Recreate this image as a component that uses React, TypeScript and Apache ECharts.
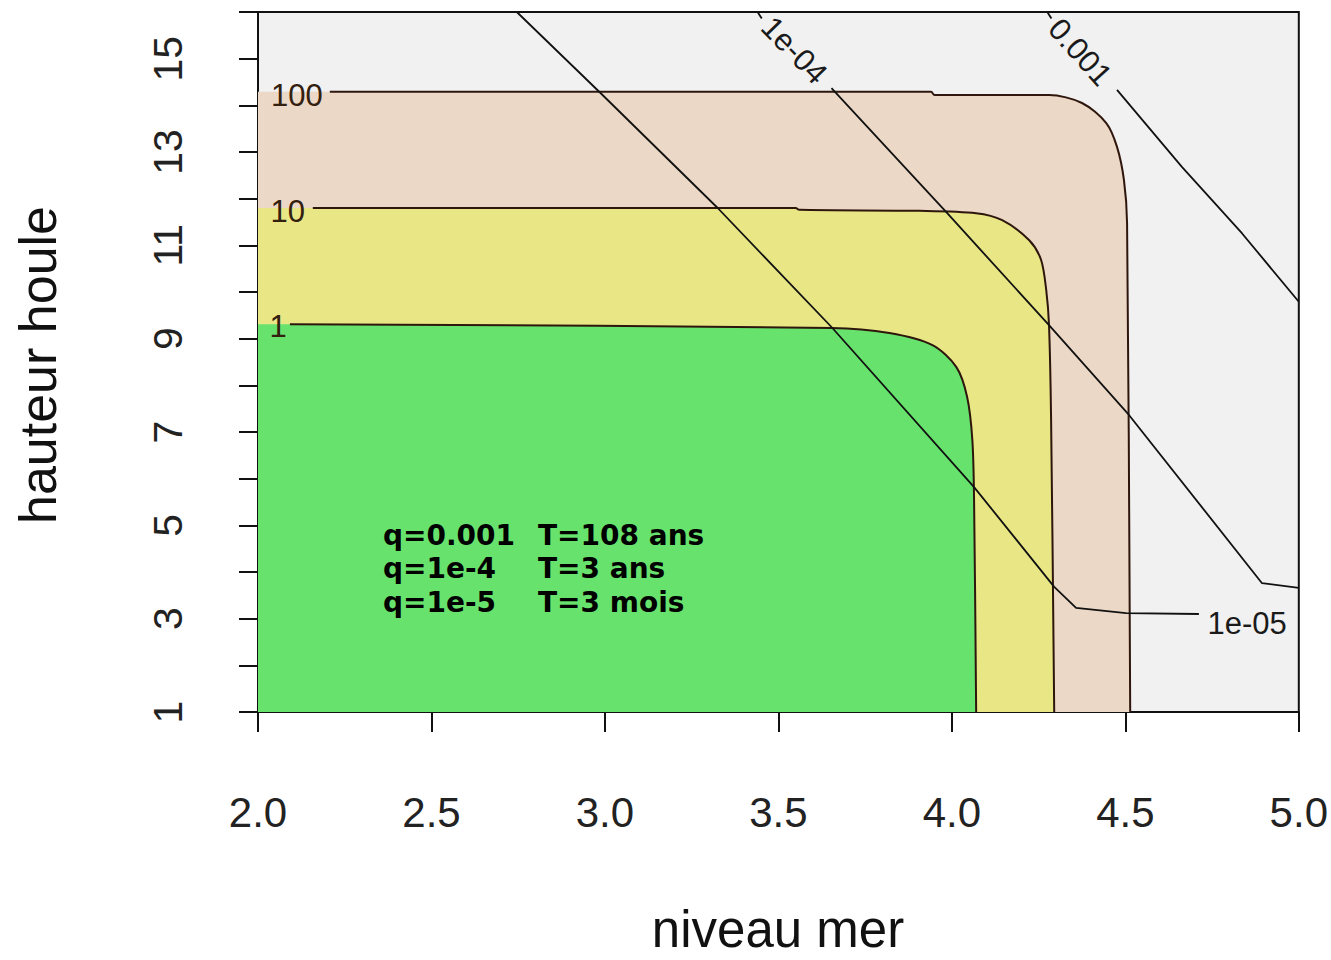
import React, { useEffect, useRef } from "react";
import * as echarts from "echarts";

// ---- data ----
const X_MIN = 2.0;
const X_MAX = 5.0;
const Y_MIN = 1;
const Y_MAX = 16;

// filled contour boundaries (return period levels 1, 10, 100)
const boundary100 = [
  [2.0, 14.29], [3.94, 14.29], [3.95, 14.22], [4.28, 14.22], [4.375, 14.05],
  [4.445, 13.62], [4.476, 13.11], [4.496, 12.4], [4.505, 11.48], [4.514, 1.0],
];
const boundary10 = [
  [2.0, 11.8], [3.55, 11.8], [3.56, 11.76], [3.906, 11.74], [4.07, 11.69],
  [4.145, 11.54], [4.223, 11.11], [4.257, 10.69], [4.272, 10.04], [4.28, 9.29],
  [4.286, 7.26], [4.295, 1.0],
];
const boundary1 = [
  [2.0, 9.31], [3.653, 9.23], [3.82, 9.12], [3.944, 8.86], [4.013, 8.39],
  [4.044, 7.75], [4.059, 6.83], [4.064, 5.54], [4.07, 1.0],
];
const boundaryLineStart = [2.207, 2.158, 2.092];

// probability contours
const line1e5 = [
  [2.746, 16.0], [2.985, 14.28], [3.325, 11.8], [3.653, 9.25], [4.064, 5.82],
  [4.295, 3.68], [4.358, 3.23], [4.502, 3.12], [4.712, 3.1],
];
const line1e4Stub = [[3.44, 16.0], [3.452, 15.86]];
const line1e4 = [
  [3.653, 14.37], [3.984, 11.71], [4.28, 9.29], [4.511, 7.36], [4.894, 3.76], [5.0, 3.66],
];
const line1e3Stub = [[4.275, 16.0], [4.287, 15.86]];
const line1e3 = [[4.476, 14.33], [4.663, 12.68], [4.836, 11.26], [5.0, 9.79]];

// contour labels
const labelTexts = ["100", "10", "1", "1e-04", "0.001", "1e-05"];
const labelX = [2.112, 2.086, 2.058, 3.546, 4.37, 4.851];
const labelY = [14.22, 11.73, 9.27, 15.18, 15.14, 2.886];
const labelRot = [0, 0, 0, -46, -48, 0];
const labelKind = ["level", "level", "level", "prob", "prob", "prob"];

const noteLeft = ["q=0.001", "q=1e-4", "q=1e-5"];
const noteRight = ["T=108 ans", "T=3 ans", "T=3 mois"];

const COL_GREY = "#f1f1f1";
const COL_TAN = "#ecd8c6";
const COL_YELLOW = "#e8e685";
const COL_GREEN = "#67e36d";
const COL_BOUND = "#2e160c";
const COL_LINE = "#111111";
const FONT = "'Liberation Sans', Arial, Helvetica, sans-serif";
const SMOOTH = 0.3;

function areaSeries(data: number[][], color: string) {
  return {
    type: "line",
    data,
    smooth: SMOOTH,
    showSymbol: false,
    symbol: "none",
    lineStyle: { width: 0, opacity: 0 },
    areaStyle: { color, opacity: 1, origin: "start" },
    silent: true,
    z: 1,
  };
}

function strokeSeries(data: number[][], color: string, width: number, smooth: number | boolean) {
  return {
    type: "line",
    data,
    smooth,
    showSymbol: false,
    symbol: "none",
    lineStyle: { width, color },
    silent: true,
    z: 3,
  };
}

export default function App() {
  const ref = useRef<HTMLDivElement>(null);

  useEffect(() => {
    if (!ref.current) return;
    const chart = echarts.init(ref.current, undefined, { renderer: "svg" });

    const boundaries = [boundary100, boundary10, boundary1];
    const strokes = boundaries.map((b, i) =>
      strokeSeries([[boundaryLineStart[i], b[0][1]], ...b.slice(1)], COL_BOUND, 2, SMOOTH)
    );

    const option: any = {
      animation: false,
      backgroundColor: "#ffffff",
      grid: {
        left: 258,
        top: 12,
        width: 1042,
        height: 700,
        show: true,
        backgroundColor: COL_GREY,
        borderColor: "#111",
        borderWidth: 2,
        containLabel: false,
      },
      xAxis: {
        type: "value",
        min: X_MIN,
        max: X_MAX,
        interval: 0.5,
        splitLine: { show: false },
        axisLine: { show: true, lineStyle: { color: "#111", width: 2 } },
        axisTick: { show: true, inside: false, length: 20, lineStyle: { color: "#111", width: 2 } },
        axisLabel: {
          show: true,
          margin: 79,
          fontSize: 42,
          fontFamily: FONT,
          color: "#222",
          formatter: (v: number) => v.toFixed(1),
        },
      },
      yAxis: {
        type: "value",
        min: Y_MIN,
        max: Y_MAX,
        interval: 1,
        splitLine: { show: false },
        axisLine: { show: true, lineStyle: { color: "#111", width: 2 } },
        axisTick: { show: true, inside: false, length: 19, lineStyle: { color: "#111", width: 2 } },
        axisLabel: {
          show: true,
          rotate: 90,
          margin: 70,
          fontSize: 41,
          fontFamily: FONT,
          color: "#222",
          formatter: (v: number) => (v % 2 === 1 && v < 16 ? String(v) : ""),
        },
      },
      series: [
        areaSeries(boundary100, COL_TAN),
        areaSeries(boundary10, COL_YELLOW),
        areaSeries(boundary1, COL_GREEN),
        ...strokes,
        strokeSeries(line1e5, COL_LINE, 1.8, false),
        strokeSeries(line1e4Stub, COL_LINE, 1.8, false),
        strokeSeries(line1e4, COL_LINE, 1.8, false),
        strokeSeries(line1e3Stub, COL_LINE, 1.8, false),
        strokeSeries(line1e3, COL_LINE, 1.8, false),
        {
          type: "custom",
          coordinateSystem: "cartesian2d",
          data: labelX.map((x, i) => [x, labelY[i]]),
          silent: true,
          z: 5,
          renderItem: (params: any, api: any) => {
            const i = params.dataIndex;
            const p = api.coord([api.value(0), api.value(1)]);
            return {
              type: "text",
              x: p[0],
              y: p[1],
              rotation: (labelRot[i] * Math.PI) / 180,
              style: {
                text: labelTexts[i],
                fontSize: 31,
                fontFamily: FONT,
                fill: labelKind[i] === "level" ? "#33200f" : "#1a1a1a",
                align: "center",
                verticalAlign: "middle",
              },
            };
          },
        },
      ],
      graphic: [
        ...noteLeft.map((t, i) => ({
          type: "text",
          left: 383,
          top: 521 + i * 33.5,
          z: 10,
          style: {
            text: t,
            font: "bold 28px 'DejaVu Sans', sans-serif",
            fill: "#000",
          },
        })),
        ...noteRight.map((t, i) => ({
          type: "text",
          left: 538,
          top: 521 + i * 33.5,
          z: 10,
          style: {
            text: t,
            font: "bold 28px 'DejaVu Sans', sans-serif",
            fill: "#000",
          },
        })),
        {
          type: "text",
          x: 38,
          y: 365,
          rotation: Math.PI / 2,
          style: {
            text: "hauteur houle",
            font: `52px ${FONT}`,
            fill: "#111",
            align: "center",
            verticalAlign: "middle",
          },
        },
        {
          type: "text",
          x: 778,
          y: 929,
          style: {
            text: "niveau mer",
            font: `51px ${FONT}`,
            fill: "#111",
            align: "center",
            verticalAlign: "middle",
          },
        },
      ],
    };

    chart.setOption(option);
    return () => chart.dispose();
  }, []);

  return (
    <div
      ref={ref}
      style={{ position: "fixed", left: 0, top: 0, width: 1331, height: 960, background: "#fff" }}
    />
  );
}
